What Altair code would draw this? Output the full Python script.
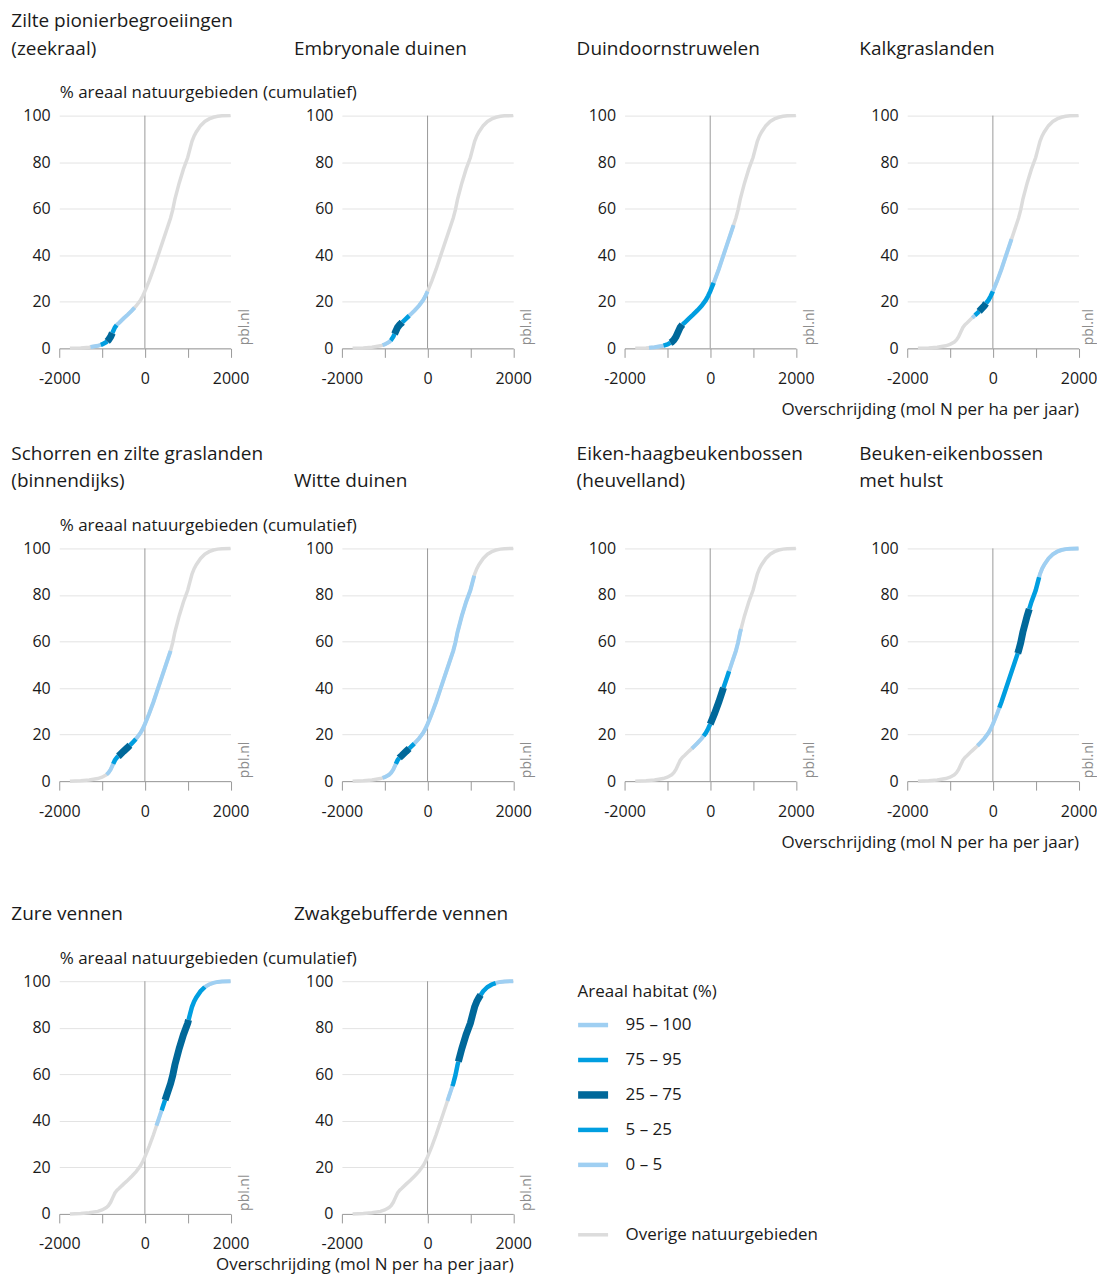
import altair as alt
import pandas as pd

# ---------------- data ----------------
# cumulative curve of all nature areas: exceedance (mol N/ha/yr) vs % area
BASE_X = [-1750, -1500, -1300, -1100, -1000, -900, -850, -800, -750, -700, -650, -600,
          -500, -400, -300, -200, -100, -50, 0, 100, 200, 300, 400, 500, 600, 650, 700,
          800, 900, 1000, 1050, 1100, 1150, 1200, 1300, 1400, 1500, 1600, 1700, 1800, 2000]
BASE_Y = [0, 0.2, 0.5, 1.1, 1.7, 2.7, 3.6, 5.0, 7.0, 9.0, 10.2, 11.0,
          12.8, 14.5, 16.3, 18.3, 20.8, 22.5, 24.5, 29, 34, 39.5, 45, 50.5, 56, 59.5, 64,
          71, 77, 82, 85.5, 89, 91.3, 93, 95.7, 97.5, 98.6, 99.3, 99.7, 99.9, 100]

TITLES = [
    ["Zilte pionierbegroeiingen", "(zeekraal)"],
    ["Embryonale duinen"],
    ["Duindoornstruwelen"],
    ["Kalkgraslanden"],
    ["Schorren en zilte graslanden", "(binnendijks)"],
    ["Witte duinen"],
    ["Eiken-haagbeukenbossen", "(heuvelland)"],
    ["Beuken-eikenbossen", "met hulst"],
    ["Zure vennen"],
    ["Zwakgebufferde vennen"],
]

# habitat class breakpoints (0, 5, 25, 75, 95, 100 % of habitat area) on the curve
BREAK_X = [
    [-1270, -1030, -880, -760, -660, -240],
    [-1050, -860, -770, -590, -430, 0],
    [-1430, -1090, -930, -650, 80, 545],
    [-480, -420, -320, -160, 0, 435],
    [-895, -740, -620, -350, -210, 600],
    [-1050, -740, -660, -430, -310, 1090],
    [-430, -155, 0, 310, 440, 720],
    [-360, 150, 580, 850, 1080, 2000],
    [270, 390, 470, 1020, 1400, 2000],
    [465, 580, 720, 1240, 1590, 2000],
]
BREAK_Y = [
    [0.6, 1.5, 3.0, 6.6, 10.0, 17.5],
    [1.4, 3.4, 6.2, 11.2, 14.0, 24.5],
    [0.3, 1.2, 2.4, 10.2, 28.1, 53.0],
    [13.1, 14.2, 15.9, 19.3, 24.5, 46.9],
    [2.8, 7.4, 10.7, 15.4, 18.1, 56.0],
    [1.4, 7.4, 10.0, 14.0, 16.1, 88.3],
    [14.0, 19.4, 24.5, 40.1, 47.2, 65.4],
    [15.2, 31.5, 54.9, 74.0, 87.6, 100],
    [37.9, 44.5, 48.9, 83.4, 97.5, 100],
    [48.6, 54.9, 65.4, 94.1, 99.2, 100],
]

SEG_ORDER = ["0 – 5", "5 – 25", "25 – 75", "75 – 95", "95 – 100"]
OTHER = "Overige natuurgebieden"
BLANK = " "
LEGEND_DOMAIN = ["95 – 100", "75 – 95", "25 – 75", "5 – 25", "0 – 5", BLANK, OTHER]

# ---------------- style ----------------
FONT = "Open Sans"
TEXT = "#1a1a1a"
LIGHT = "#9fcff2"
MID = "#009ee0"
DARK = "#00689a"
GRAY = "#dcdcdc"
LEGEND_COLORS = [LIGHT, MID, DARK, MID, LIGHT, "transparent", GRAY]

W, H = 171.5, 233
Y_TITLE_PANELS = {0, 4, 8}
X_TITLE_Y = {3: 66, 7: 66, 9: 56}
RIGHT_COL = {3, 7}

XS = alt.Scale(domain=[-2000, 2000], nice=False, zero=False)
YS = alt.Scale(domain=[0, 100], nice=False)

LEG = alt.Legend(
    orient="none", legendX=519, legendY=869, direction="vertical",
    title="Areaal habitat (%)", titleFontSize=17, titleFontWeight="normal",
    titleFont=FONT, titleColor=TEXT, titlePadding=16,
    labelFontSize=17, labelFont=FONT, labelColor=TEXT, labelOffset=24, labelLimit=400,
    symbolType="stroke", symbolSize=900, symbolOffset=7, rowPadding=4, padding=0,
    gridAlign="all",
    symbolStrokeWidth={"expr": "datum.value === '25 – 75' ? 7.5 : (datum.value === 'Overige natuurgebieden' ? 3.5 : 4.5)"},
)


def x_axis(i):
    kw = dict(values=[-2000, -1000, 0, 1000, 2000],
              labelExpr="abs(datum.value) == 1000 ? '' : toString(datum.value)",
              grid=False, domainColor="#9a9a9a", tickColor="#9a9a9a", tickSize=9,
              labelFontSize=16, labelPadding=13, labelFlush=False)
    if i in X_TITLE_Y:
        kw.update(title="Overschrijding (mol N per ha per jaar)", titleX=W,
                  titleY=X_TITLE_Y[i], titleAlign="right", titleBaseline="alphabetic",
                  titleFontSize=17, titleFontWeight="normal")
    else:
        kw.update(title=None)
    return alt.Axis(**kw)


def y_axis(i):
    kw = dict(values=[0, 20, 40, 60, 80, 100], grid=True, gridColor="#e3e3e3",
              domain=False, ticks=False, labelFontSize=16, labelPadding=9)
    if i in Y_TITLE_PANELS:
        kw.update(title="% areaal natuurgebieden (cumulatief)", titleAngle=0, titleX=0,
                  titleY=-18, titleAlign="left", titleBaseline="alphabetic",
                  titleFontSize=17, titleFontWeight="normal")
    else:
        kw.update(title=None)
    return alt.Axis(**kw)


def make_panel(i):
    bx, by = BREAK_X[i], BREAK_Y[i]
    rows = []
    for k, cls in enumerate(SEG_ORDER):
        pts = [(bx[k], by[k])]
        pts += [(x, y) for x, y in zip(BASE_X, BASE_Y) if bx[k] < x < bx[k + 1]]
        pts += [(bx[k + 1], by[k + 1])]
        for x, y in pts:
            rows.append({"x": x, "y": y, "cls": cls})
    seg_df = pd.DataFrame(rows)
    base_df = pd.DataFrame({"x": BASE_X, "y": BASE_Y, "cls": [OTHER] * len(BASE_X)})

    X = alt.X("x:Q", scale=XS, axis=x_axis(i))
    Y = alt.Y("y:Q", scale=YS, axis=y_axis(i))
    C = alt.Color("cls:N", scale=alt.Scale(domain=LEGEND_DOMAIN, range=LEGEND_COLORS),
                  legend=LEG)

    zero = alt.Chart(pd.DataFrame({"x": [0]})).mark_rule(
        color="#9a9a9a", strokeWidth=1).encode(x=X)
    gray = alt.Chart(base_df).mark_line(strokeWidth=3.5, strokeCap="butt").encode(
        x=X, y=Y, color=C)
    seg = alt.Chart(seg_df)
    light = seg.transform_filter(
        alt.FieldOneOfPredicate(field="cls", oneOf=["0 – 5", "95 – 100"])
    ).mark_line(strokeWidth=4, strokeCap="butt").encode(x=X, y=Y, color=C)
    mid = seg.transform_filter(
        alt.FieldOneOfPredicate(field="cls", oneOf=["5 – 25", "75 – 95"])
    ).mark_line(strokeWidth=4.5, strokeCap="butt").encode(x=X, y=Y, color=C)
    dark = seg.transform_filter(
        alt.FieldEqualPredicate(field="cls", equal="25 – 75")
    ).mark_line(strokeWidth=7, strokeCap="butt").encode(x=X, y=Y, color=C)
    pbl_x = W + 14 if i in RIGHT_COL else W + 18
    pbl = alt.Chart(pd.DataFrame({"t": ["pbl.nl"]})).mark_text(
        angle=270, align="left", baseline="alphabetic", fontSize=14,
        color="#8c8c8c", font=FONT).encode(text="t:N", x=alt.value(pbl_x),
                                           y=alt.value(H - 3))

    offset = 6 if i in Y_TITLE_PANELS else 30
    title = alt.TitleParams(text=TITLES[i], anchor="start", frame="group", dx=-48,
                            fontSize=19, fontWeight="normal", font=FONT, color=TEXT,
                            lineHeight=28, baseline="bottom", offset=offset)
    return alt.layer(zero, gray, light, mid, dark, pbl).properties(
        width=W, height=H, title=title)


panels = [make_panel(i) for i in range(10)]

chart = alt.concat(
    *panels, columns=4, spacing={"row": 200.3, "column": 111}, bounds="flush"
).properties(
    padding={"left": 3.3, "top": 3, "right": 0, "bottom": 0}
).configure_view(strokeWidth=0).configure_axis(
    labelFont=FONT, titleFont=FONT, labelColor=TEXT, titleColor=TEXT
).configure_title(font=FONT, color=TEXT)

chart.save("out.html", embed_options={"renderer": "svg", "actions": False})
